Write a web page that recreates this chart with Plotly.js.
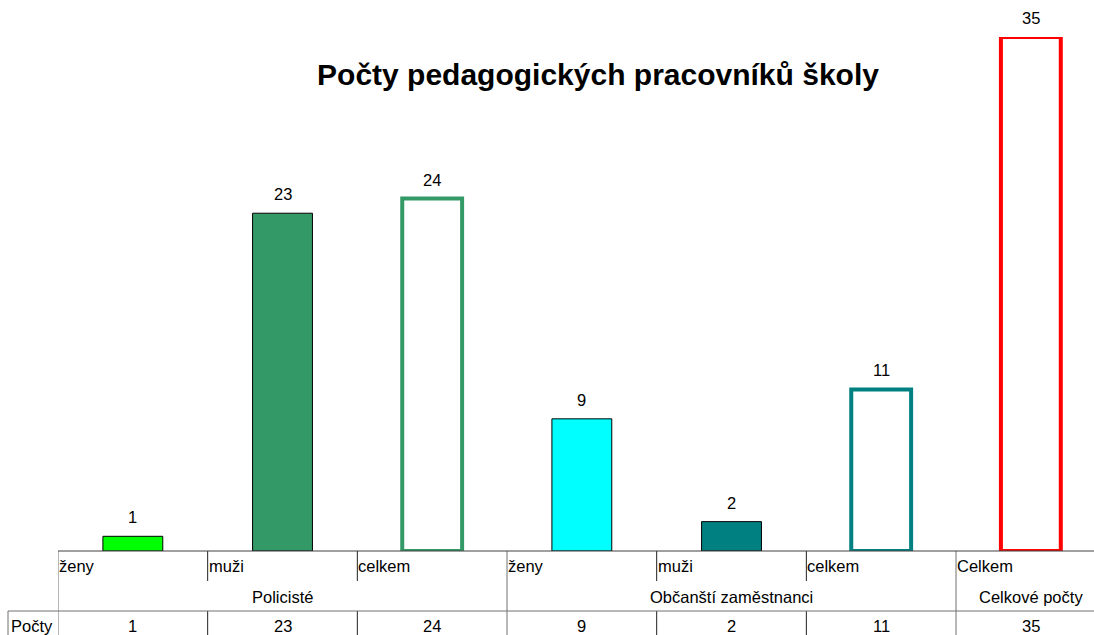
<!DOCTYPE html>
<html><head><meta charset="utf-8">
<script src="https://cdn.plot.ly/plotly-3.0.1.min.js"></script>
<style>html,body{margin:0;padding:0;background:#fff;overflow:hidden}</style>
</head><body><div id="chart" style="width:1094px;height:635px"></div>
<script>
var categories = ["ženy", "muži", "celkem", "ženy", "muži", "celkem", "Celkem"];
var groups = ["Policisté", "Občanští zaměstnanci", "Celkové počty"];
var groupSpans = [[0, 2], [3, 5], [6, 6]];
var values = [1, 23, 24, 9, 2, 11, 35];
var rowLabel = "Počty";
var fillColors = ["#00FF00", "#339966", "#FFFFFF", "#00FFFF", "#008080", "#FFFFFF", "#FFFFFF"];
var lineColors = ["#000000", "#000000", "#339966", "#000000", "#000000", "#008080", "#FF0000"];
var lineWidths = [1, 1, 4, 1, 1, 4, 4];

var idx = values.map(function(v, i){ return i; });
var font = {family: "Liberation Sans, Arial, sans-serif", size: 16.5, color: "#000"};

// plot area pixel geometry
var plotLeft = 58, plotTop = 37, plotBottom = 551, plotH = plotBottom - plotTop, plotW = 1094 - plotLeft;
function py(p){ return (plotBottom - p) / plotH; }
function px(p){ return (p - plotLeft) / plotW; }
var catW = 149.67;

var annotations = [];
values.forEach(function(v, i){
  annotations.push({x: i, y: v, xref: "x", yref: "y", text: String(v), showarrow: false,
    yanchor: "bottom", yshift: 8, font: font});
});
categories.forEach(function(c, i){
  annotations.push({x: i - 0.5, y: py(566), xref: "x", yref: "paper", text: c, showarrow: false,
    xanchor: "left", yanchor: "middle", xshift: -1, font: font});
});
groups.forEach(function(g, k){
  var s = groupSpans[k];
  annotations.push({x: (s[0] + s[1]) / 2, y: py(597), xref: "x", yref: "paper", text: g, showarrow: false,
    xanchor: "center", yanchor: "middle", font: font});
});
values.forEach(function(v, i){
  annotations.push({x: i, y: py(626), xref: "x", yref: "paper", text: String(v), showarrow: false,
    xanchor: "center", yanchor: "middle", font: font});
});
annotations.push({x: px(9), y: py(626), xref: "paper", yref: "paper", text: rowLabel, showarrow: false,
  xanchor: "left", yanchor: "middle", font: font});

var shapes = [];
function vline(x, p0, p1, col){
  shapes.push({type: "line", xref: "x", yref: "paper", x0: x, x1: x, y0: py(p0), y1: py(p1),
    line: {color: col, width: 1}});
}
var groupStarts = groupSpans.map(function(s){ return s[0]; });
categories.forEach(function(c, i){
  var x = i - 0.5;
  if (groupStarts.indexOf(i) >= 0) {
    vline(x, 551, 640, "#707070");
  } else {
    vline(x, 551, 581, "#202020");
    vline(x, 611, 640, "#202020");
  }
});
shapes.push({type: "line", xref: "paper", yref: "paper", x0: px(8), x1: px(8), y0: py(611), y1: py(640),
  line: {color: "#707070", width: 1}});
shapes.push({type: "line", xref: "paper", yref: "paper", x0: px(8), x1: 1, y0: py(611), y1: py(611),
  line: {color: "#707070", width: 1}});
shapes.push({type: "line", xref: "paper", yref: "paper", x0: 0, x1: 1, y0: py(551), y1: py(551),
  line: {color: "#404040", width: 1}});

var trace = {
  type: "bar", x: idx, y: values, width: 0.4,
  marker: {color: fillColors, line: {color: lineColors, width: lineWidths}},
  hoverinfo: "skip", cliponaxis: false
};

var layout = {
  width: 1094, height: 635,
  margin: {l: plotLeft, r: 0, t: plotTop, b: 635 - plotBottom, pad: 0},
  paper_bgcolor: "#fff", plot_bgcolor: "#fff",
  showlegend: false,
  title: {text: "<b>Počty pedagogických pracovníků školy</b>", xref: "container", yref: "container",
    x: 598 / 1094, xanchor: "center", y: 1 - 74 / 635, yanchor: "middle",
    font: {family: "Liberation Sans, Arial, sans-serif", size: 30, color: "#000"}},
  xaxis: {range: [-0.5, -0.5 + plotW / catW], showticklabels: false, showgrid: false,
    zeroline: false, showline: false, ticks: "", fixedrange: true},
  yaxis: {range: [0, 35], showticklabels: false, showgrid: false, zeroline: false,
    showline: false, ticks: "", fixedrange: true},
  annotations: annotations,
  shapes: shapes
};

Plotly.newPlot("chart", [trace], layout, {displayModeBar: false, staticPlot: true});
</script>
</body></html>
